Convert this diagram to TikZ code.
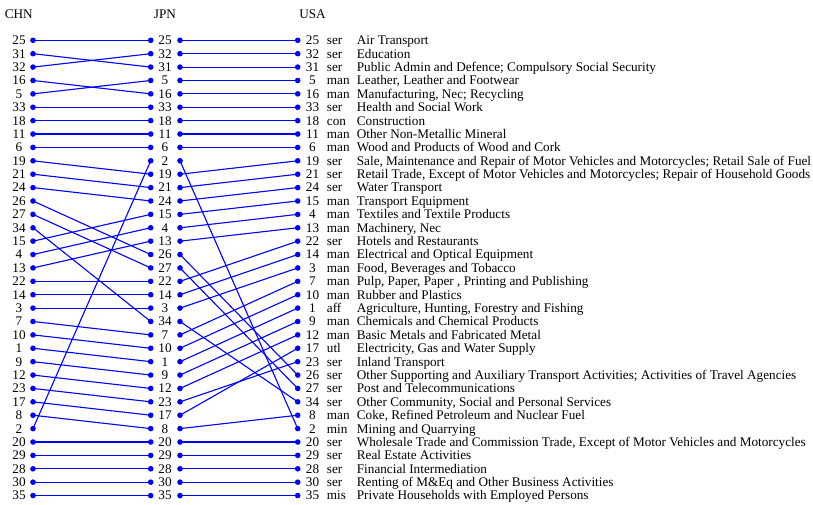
\documentclass[tikz,border=0pt]{standalone}
\usepackage{fontspec}
\setmainfont{Liberation Serif}
\definecolor{lineblue}{RGB}{0,0,255}
\begin{document}
\begin{tikzpicture}[x=1pt,y=-1pt,
  font=\fontsize{13.2}{15}\selectfont,
  dot/.style={circle,fill=lineblue,inner sep=0pt,minimum size=5.6pt},
  num/.style={inner sep=0pt,anchor=base},
  lab/.style={inner sep=0pt,anchor=base west},
  link/.style={draw=lineblue,line width=1.1pt}]
\useasboundingbox (0,0) rectangle (813,504);
% headers
\node[num] (hchn) at (18.7,18.4) {CHN};
\node[num] (hjpn) at (165,18.4) {JPN};
\node[num] (husa) at (312.5,18.4) {USA};
% CHN column
\foreach \n [count=\i] in {25,31,32,16,5,33,18,11,6,19,21,24,26,27,34,15,4,13,22,14,3,7,10,1,9,12,23,17,8,2,20,29,28,30,35} {
  \pgfmathsetmacro\yy{40.3+13.39*(\i-1)}
  \node[num] (c\n) at (19,\yy+4.4) {\n};
  \node[dot] (cd\n) at (33,\yy) {};
}
% JPN column
\foreach \n [count=\i] in {25,32,31,5,16,33,18,11,6,2,19,21,24,15,4,13,26,27,22,14,3,34,7,10,1,9,12,23,17,8,20,29,28,30,35} {
  \pgfmathsetmacro\yy{40.3+13.39*(\i-1)}
  \node[dot] (jl\n) at (150.7,\yy) {};
  \node[num] (j\n) at (165,\yy+4.4) {\n};
  \node[dot] (jr\n) at (180,\yy) {};
}
% USA column
\foreach \n/\t/\s [count=\i] in {
 25/ser/Air Transport,
 32/ser/Education,
 31/ser/Public Admin and Defence; Compulsory Social Security,
 5/man/{Leather, Leather and Footwear},
 16/man/{Manufacturing, Nec; Recycling},
 33/ser/Health and Social Work,
 18/con/Construction,
 11/man/Other Non-Metallic Mineral,
 6/man/Wood and Products of Wood and Cork,
 19/ser/{Sale, Maintenance and Repair of Motor Vehicles and Motorcycles; Retail Sale of Fuel},
 21/ser/{Retail Trade, Except of Motor Vehicles and Motorcycles; Repair of Household Goods},
 24/ser/Water Transport,
 15/man/Transport Equipment,
 4/man/Textiles and Textile Products,
 13/man/{Machinery, Nec},
 22/ser/Hotels and Restaurants,
 14/man/Electrical and Optical Equipment,
 3/man/{Food, Beverages and Tobacco},
 7/man/{Pulp, Paper, Paper , Printing and Publishing},
 10/man/Rubber and Plastics,
 1/aff/{Agriculture, Hunting, Forestry and Fishing},
 9/man/Chemicals and Chemical Products,
 12/man/Basic Metals and Fabricated Metal,
 17/utl/{Electricity, Gas and Water Supply},
 23/ser/Inland Transport,
 26/ser/Other Supporting and Auxiliary Transport Activities; Activities of Travel Agencies,
 27/ser/Post and Telecommunications,
 34/ser/{Other Community, Social and Personal Services},
 8/man/{Coke, Refined Petroleum and Nuclear Fuel},
 2/min/Mining and Quarrying,
 20/ser/{Wholesale Trade and Commission Trade, Except of Motor Vehicles and Motorcycles},
 29/ser/Real Estate Activities,
 28/ser/Financial Intermediation,
 30/ser/Renting of M\&Eq and Other Business Activities,
 35/mis/Private Households with Employed Persons} {
  \pgfmathsetmacro\yy{40.3+13.39*(\i-1)}
  \node[dot] (ud\n) at (297.7,\yy) {};
  \node[num] (u\n) at (312.5,\yy+4.4) {\n};
  \node[lab] (ut\n) at (326.7,\yy+4.4) {\t};
  \node[lab] (un\n) at (356.7,\yy+4.4) {\s};
}
% connectors
\foreach \n in {1,...,35} {
  \draw[link] (cd\n.center) -- (jl\n.center);
  \draw[link] (jr\n.center) -- (ud\n.center);
}
\end{tikzpicture}
\end{document}
